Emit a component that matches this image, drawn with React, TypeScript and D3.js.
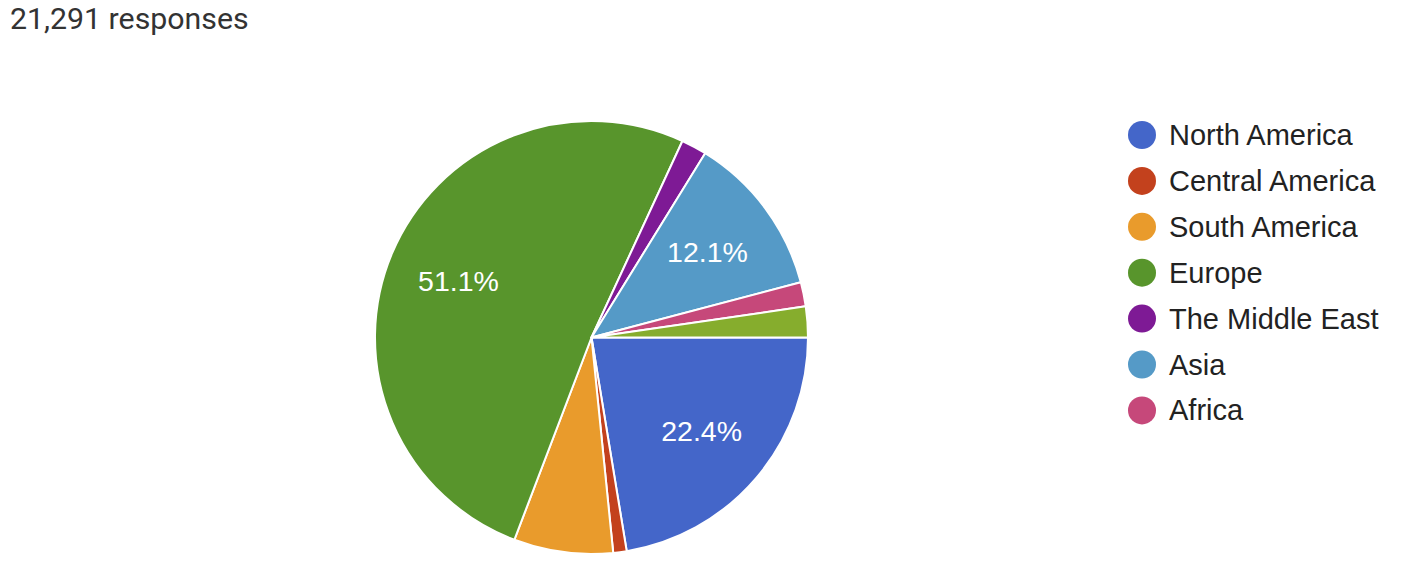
import React from "react";
import * as d3 from "d3";

const categories = [
  "North America",
  "Central America",
  "South America",
  "Europe",
  "The Middle East",
  "Asia",
  "Africa",
  "Oceania",
];
const values = [22.4, 1.0, 7.4, 51.1, 1.9, 12.1, 1.8, 2.3];
const colors = [
  "#4466c9",
  "#c3411d",
  "#e99b2c",
  "#58952c",
  "#7e1a95",
  "#559ac7",
  "#c6487a",
  "#86ad2d",
];
const legendCount = 7;
const title = "21,291 responses";

const W = 1416;
const H = 566;
const cx = 591.5;
const cy = 337.5;
const R = 216.5;

export default function App() {
  const total = d3.sum(values);
  const pie = d3
    .pie<number>()
    .sort(null)
    .startAngle(Math.PI / 2)
    .endAngle(Math.PI / 2 + 2 * Math.PI)
    .value((d) => d);
  const arcs = pie(values);
  const arc = d3.arc<d3.PieArcDatum<number>>().innerRadius(0).outerRadius(R);
  const labelArc = d3
    .arc<d3.PieArcDatum<number>>()
    .innerRadius(R * 0.667)
    .outerRadius(R * 0.667);
  const fmt = d3.format(".1%");
  const legendY = d3.scaleLinear().domain([0, 1]).range([135, 180.9]);

  return (
    <svg
      width={W}
      height={H}
      style={{ position: "absolute", left: 0, top: 0, background: "#fff" }}
    >
      <text
        x={10}
        y={29}
        fontFamily="Roboto, sans-serif"
        fontSize={30.3}
        fill="#333"
      >
        {title}
      </text>
      <g transform={`translate(${cx},${cy})`}>
        {arcs.map((a, i) => (
          <path
            key={i}
            d={arc(a) || ""}
            fill={colors[i]}
            stroke="#fff"
            strokeWidth={2}
            strokeLinejoin="round"
          />
        ))}
        {arcs.map((a, i) => {
          if (a.data / total < 0.1) return null;
          const [lx, ly] = labelArc.centroid(a);
          return (
            <text
              key={"l" + i}
              x={lx}
              y={ly}
              textAnchor="middle"
              dominantBaseline="central"
              fontFamily="'Liberation Sans', Arial, sans-serif"
              fontSize={28.5}
              fill="#fff"
            >
              {fmt(a.data / total)}
            </text>
          );
        })}
      </g>
      <g>
        {categories.slice(0, legendCount).map((c, i) => (
          <g key={c} transform={`translate(0,${legendY(i)})`}>
            <circle cx={1142} cy={0} r={14} fill={colors[i]} />
            <text
              x={1169}
              y={0}
              dominantBaseline="central"
              fontFamily="'Liberation Sans', Arial, sans-serif"
              fontSize={29}
              fill="#222"
            >
              {c}
            </text>
          </g>
        ))}
      </g>
    </svg>
  );
}
